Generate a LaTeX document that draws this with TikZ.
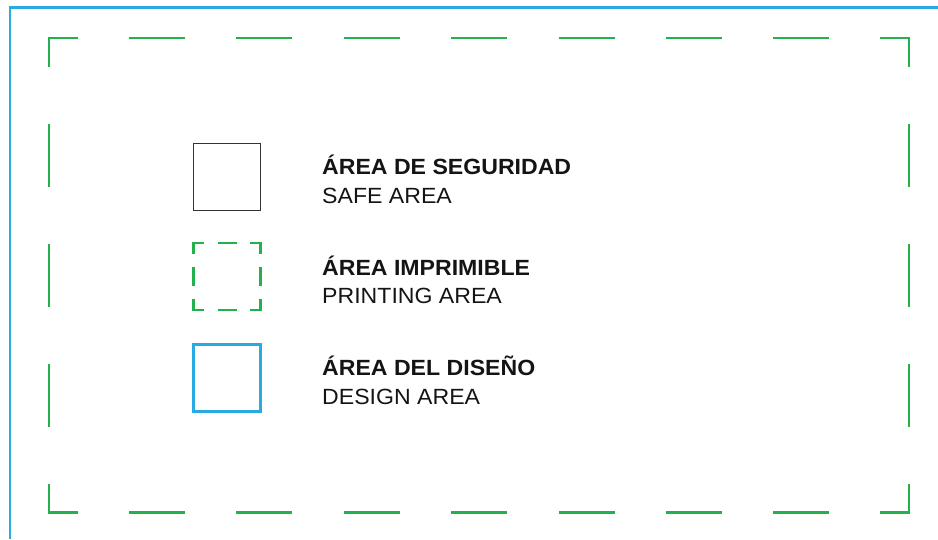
\documentclass[tikz,border=0pt]{standalone}
\usepackage{fontspec}
\newfontfamily\legendfont{Liberation Sans}[FakeStretch=1.05]
\definecolor{framegreen}{RGB}{34,177,76}
\definecolor{designblue}{RGB}{41,171,226}
\definecolor{inkdark}{RGB}{20,20,20}
\tikzset{
  greenline/.style={draw=framegreen, line width=2.6pt},
  blueline/.style={draw=designblue, line width=2.5pt},
  titletext/.style={anchor=base west, inner sep=0pt, font=\legendfont\fontsize{22}{26}\selectfont\bfseries, text=inkdark},
  subtext/.style={anchor=base west, inner sep=0pt, font=\legendfont\fontsize{22}{26}\selectfont, text=inkdark},
}
\begin{document}
\begin{tikzpicture}[x=1pt,y=-1pt]
\useasboundingbox (0,0) rectangle (938,539);
% design area border
\draw[blueline] (10,539) -- (10,7.5) -- (938,7.5);
% printing area (dashed green frame)
\draw[greenline] (49,66.7) -- (49,38) -- (78,38);
\draw[greenline] (880,38) -- (909,38) -- (909,66.7);
\draw[greenline] (49,484) -- (49,512.7) -- (78,512.7);
\draw[greenline] (880,512.7) -- (909,512.7) -- (909,484);
\foreach \i in {0,...,6} {
  \draw[greenline] ({129+107.4*\i},38) -- ({185+107.4*\i},38);
  \draw[greenline] ({129+107.4*\i},512.7) -- ({185+107.4*\i},512.7);
}
\foreach \i in {0,1,2} {
  \draw[greenline] (49,{124+120*\i}) -- (49,{186.7+120*\i});
  \draw[greenline] (909,{124+120*\i}) -- (909,{186.7+120*\i});
}
% legend boxes
\draw[draw=black!80, line width=0.9pt] (193.5,143.5) rectangle (260.5,210.5);
\begin{scope}[shift={(193.5,243)}]
  \draw[greenline] (0,10.7) -- (0,0) -- (10.7,0);
  \draw[greenline] (56.3,0) -- (67,0) -- (67,10.7);
  \draw[greenline] (0,56.3) -- (0,67) -- (10.7,67);
  \draw[greenline] (56.3,67) -- (67,67) -- (67,56.3);
  \draw[greenline] (24,0) -- (43,0);
  \draw[greenline] (24,67) -- (43,67);
  \draw[greenline] (0,24) -- (0,43);
  \draw[greenline] (67,24) -- (67,43);
\end{scope}
\draw[blueline] (193.5,344.5) rectangle (260.5,411.5);
% legend texts
\node[titletext] (t1) at (322,174.5) {ÁREA DE SEGURIDAD};
\node[subtext] (s1) at (322,203) {SAFE AREA};
\node[titletext] (t2) at (322,275) {ÁREA IMPRIMIBLE};
\node[subtext] (s2) at (322,303.5) {PRINTING AREA};
\node[titletext] (t3) at (322,375.5) {ÁREA DEL DISEÑO};
\node[subtext] (s3) at (322,404) {DESIGN AREA};
\end{tikzpicture}
\end{document}
